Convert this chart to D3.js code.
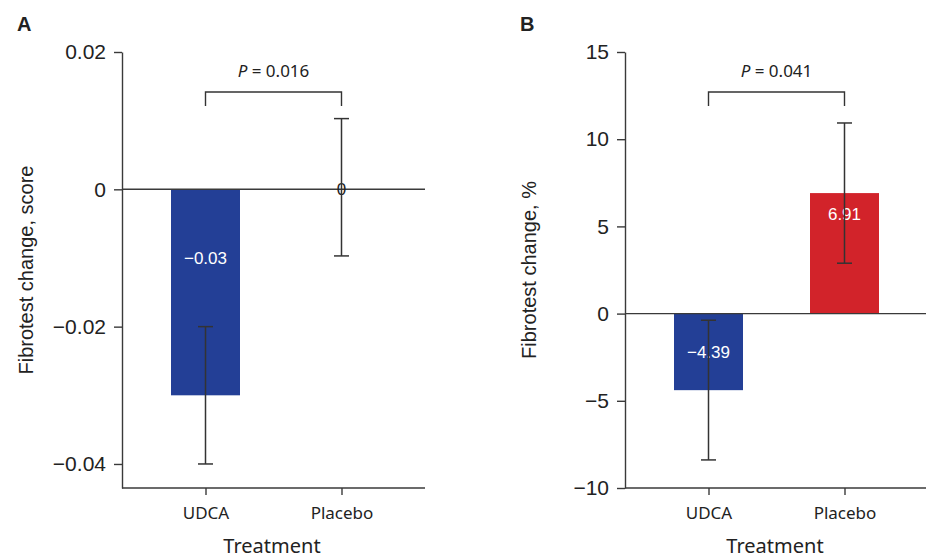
<!DOCTYPE html>
<html>
<head>
<meta charset="utf-8">
<title>Fibrotest change by treatment</title>
<script src="https://cdnjs.cloudflare.com/ajax/libs/d3/7.8.5/d3.min.js"></script>
<style>
  body { margin: 0; background: #fff; }
  svg text { fill: #222; }
  .tick line, .domain { stroke: #3a3a3a; stroke-width: 1.4; }
</style>
</head>
<body>
<svg id="chart" width="926" height="558"></svg>
<script>
// data
const categories = ["UDCA", "Placebo"];

const scoreMean = [-0.03, 0];
const scoreLow = [-0.04, -0.0097];
const scoreHigh = [-0.02, 0.0103];
const scoreLabels = ["\u22120.03", "0"];
const scoreTicks = [0.02, 0, -0.02, -0.04];

const pctMean = [-4.39, 6.91];
const pctLow = [-8.39, 2.89];
const pctHigh = [-0.38, 10.93];
const pctLabels = ["\u22124.39", "6.91"];
const pctTicks = [15, 10, 5, 0, -5, -10];

const pValues = ["0.016", "0.041"];

const svg = d3.select("#chart");
const numFont = "'Liberation Sans', Arial, sans-serif";
const txtFont = "'Noto Sans', sans-serif";
const blue = "#233f96", red = "#d2232a";

const panels = [
  {
    letter: "A", x0: 122, x1: 425, lineEnd: 425,
    domain: [-0.0435, 0.02], ticks: scoreTicks,
    fmt: d => d === 0 ? "0" : d3.format(".2f")(d),
    mean: scoreMean, low: scoreLow, high: scoreHigh, labels: scoreLabels,
    labelAt: [-0.01, 0], labelColor: ["#fff", "#222"],
    colors: [blue, blue], ylab: "Fibrotest change, score", p: pValues[0]
  },
  {
    letter: "B", x0: 625, x1: 928, lineEnd: 926,
    domain: [-10, 15], ticks: pctTicks,
    fmt: d3.format("d"),
    mean: pctMean, low: pctLow, high: pctHigh, labels: pctLabels,
    labelAt: [-2.2, 5.7], labelColor: ["#fff", "#fff"],
    colors: [blue, red], ylab: "Fibrotest change, %", p: pValues[1]
  }
];

const yTop = 52, yBottom = 488, barW = 69, cap = 15;

panels.forEach(pn => {
  const g = svg.append("g");
  const x = d3.scalePoint().domain(categories).range([pn.x0, pn.x1]).padding(0.614);
  const y = d3.scaleLinear().domain(pn.domain).range([yBottom, yTop]);

  // panel letter
  g.append("text")
    .attr("x", pn.x0 - 105).attr("y", 31)
    .style("font", "bold 20px " + numFont)
    .text(pn.letter);

  // y axis
  const ya = g.append("g")
    .attr("transform", `translate(${pn.x0},0)`)
    .call(d3.axisLeft(y).tickValues(pn.ticks).tickFormat(pn.fmt)
      .tickSize(8).tickPadding(8).tickSizeOuter(0));
  ya.selectAll("text").style("font", "21px " + numFont).attr("fill", "#222");

  // x axis
  const xa = g.append("g")
    .attr("transform", `translate(0,${yBottom})`)
    .call(d3.axisBottom(x).tickSize(7).tickPadding(12).tickSizeOuter(0));
  xa.select(".domain").attr("d", `M${pn.x0},0H${pn.x1}`);
  xa.selectAll("text").style("font", "17px " + txtFont).attr("fill", "#222");

  // bars
  g.selectAll("rect.bar")
    .data(categories)
    .join("rect")
    .attr("class", "bar")
    .attr("x", d => x(d) - barW / 2)
    .attr("width", barW)
    .attr("y", (d, i) => y(Math.max(0, pn.mean[i])))
    .attr("height", (d, i) => Math.abs(y(pn.mean[i]) - y(0)))
    .attr("fill", (d, i) => pn.colors[i]);

  // zero line
  g.append("line")
    .attr("x1", pn.x0).attr("x2", pn.lineEnd)
    .attr("y1", y(0)).attr("y2", y(0))
    .attr("stroke", "#3a3a3a").attr("stroke-width", 1.4);

  // value labels
  g.selectAll("text.val")
    .data(categories)
    .join("text")
    .attr("class", "val")
    .attr("x", d => x(d))
    .attr("y", (d, i) => y(pn.labelAt[i]))
    .attr("dy", "0.35em")
    .attr("text-anchor", "middle")
    .style("font", "17px " + numFont)
    .style("fill", (d, i) => pn.labelColor[i])
    .text((d, i) => pn.labels[i]);

  // error bars
  const eb = g.selectAll("g.err").data(categories).join("g").attr("class", "err")
    .attr("stroke", "#333").attr("stroke-width", 1.5);
  eb.append("line")
    .attr("x1", d => x(d)).attr("x2", d => x(d))
    .attr("y1", (d, i) => y(pn.low[i])).attr("y2", (d, i) => y(pn.high[i]));
  eb.append("line")
    .attr("x1", d => x(d) - cap / 2).attr("x2", d => x(d) + cap / 2)
    .attr("y1", (d, i) => y(pn.low[i])).attr("y2", (d, i) => y(pn.low[i]));
  eb.append("line")
    .attr("x1", d => x(d) - cap / 2).attr("x2", d => x(d) + cap / 2)
    .attr("y1", (d, i) => y(pn.high[i])).attr("y2", (d, i) => y(pn.high[i]));

  // significance bracket
  const bx0 = x(categories[0]), bx1 = x(categories[1]);
  g.append("path")
    .attr("d", `M${bx0},${yTop + 54}V${yTop + 40}H${bx1}V${yTop + 54}`)
    .attr("fill", "none").attr("stroke", "#333").attr("stroke-width", 1.4);
  const pt = g.append("text")
    .attr("x", (bx0 + bx1) / 2).attr("y", yTop + 25)
    .attr("text-anchor", "middle")
    .style("font", "17px " + txtFont);
  pt.append("tspan").style("font-style", "italic").text("P");
  pt.append("tspan").text(" = " + pn.p);

  // axis titles
  g.append("text")
    .attr("x", (pn.x0 + pn.x1 - 3) / 2).attr("y", 553)
    .attr("text-anchor", "middle")
    .style("font", "20px " + txtFont)
    .text("Treatment");
  g.append("text")
    .attr("transform", `translate(${pn.x0 - 89},${(yTop + yBottom) / 2}) rotate(-90)`)
    .attr("text-anchor", "middle")
    .style("font", "20px " + numFont)
    .text(pn.ylab);
});
</script>
</body>
</html>
